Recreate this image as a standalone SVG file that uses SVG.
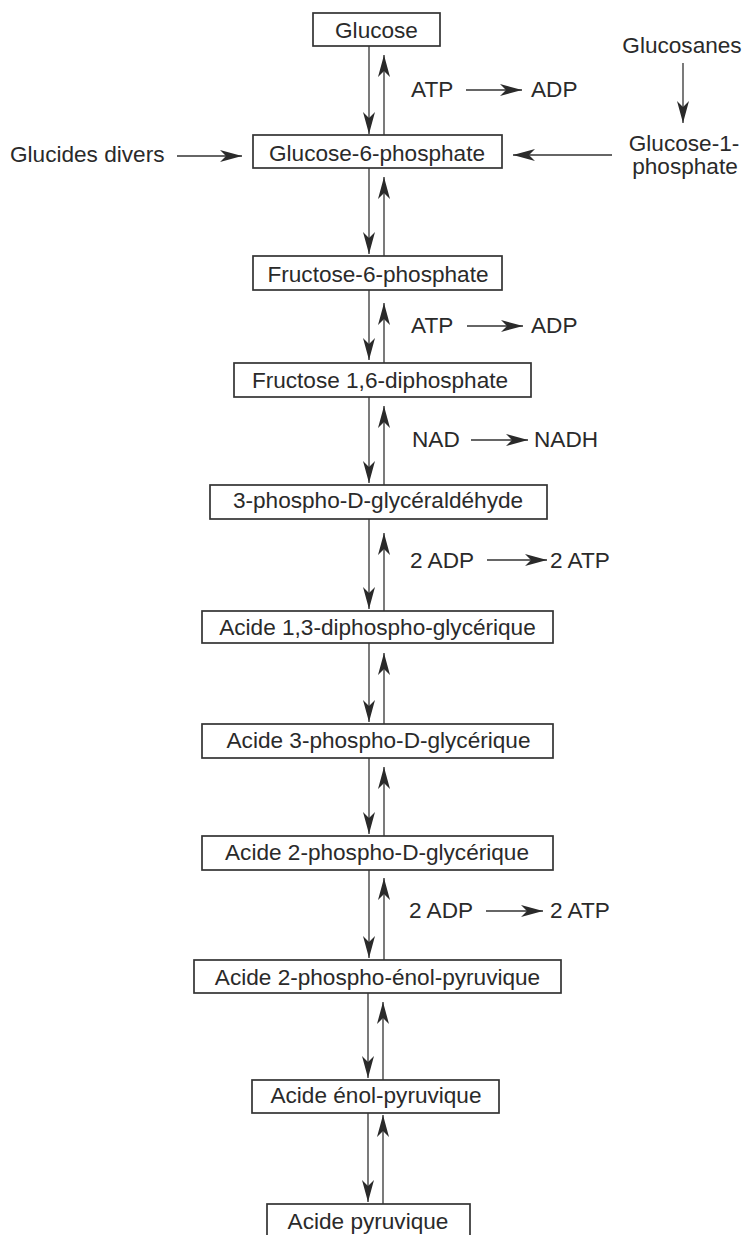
<svg xmlns="http://www.w3.org/2000/svg" width="745" height="1235" viewBox="0 0 745 1235">
<style>
  text { font-family: "Liberation Sans", Arial, sans-serif; font-size: 22.6px; fill: #2a2a2a; }
  .box { fill: #ffffff; stroke: #333333; stroke-width: 1.7; }
  .c { text-anchor: middle; }
  .ln { stroke: #333333; stroke-width: 1.3; fill: none; marker-end: url(#ah); }
</style>
<defs>
  <marker id="ah" markerUnits="userSpaceOnUse" markerWidth="24" markerHeight="13" refX="22" refY="6.5" orient="auto" viewBox="0 0 24 13">
    <path d="M0,0.5 L22,6.5 L0,12.5 L6,6.5 Z" fill="#2a2a2a"/>
  </marker>
</defs>
<rect width="745" height="1235" fill="#ffffff"/>

<g id="connectors">
  <line class="ln" x1="369" y1="46" x2="369" y2="134"/>
  <line class="ln" x1="369" y1="168" x2="369" y2="254"/>
  <line class="ln" x1="369" y1="290" x2="369" y2="360"/>
  <line class="ln" x1="369" y1="397" x2="369" y2="483"/>
  <line class="ln" x1="369" y1="519" x2="369" y2="609"/>
  <line class="ln" x1="369" y1="643" x2="369" y2="722"/>
  <line class="ln" x1="369" y1="758" x2="369" y2="834"/>
  <line class="ln" x1="369" y1="870" x2="369" y2="958"/>
  <line class="ln" x1="368" y1="993" x2="368" y2="1078"/>
  <line class="ln" x1="368" y1="1113" x2="368" y2="1202"/>
  <line class="ln" x1="384" y1="135" x2="384" y2="55"/>
  <line class="ln" x1="384" y1="256" x2="384" y2="177"/>
  <line class="ln" x1="384" y1="363" x2="384" y2="303"/>
  <line class="ln" x1="384" y1="485" x2="384" y2="406"/>
  <line class="ln" x1="384" y1="611" x2="384" y2="533"/>
  <line class="ln" x1="384" y1="724" x2="384" y2="653"/>
  <line class="ln" x1="384" y1="836" x2="384" y2="767"/>
  <line class="ln" x1="384" y1="960" x2="384" y2="878"/>
  <line class="ln" x1="383" y1="1080" x2="383" y2="1002"/>
  <line class="ln" x1="383" y1="1204" x2="383" y2="1115"/>
  <line class="ln" x1="466" y1="90" x2="522" y2="90"/>
  <line class="ln" x1="467" y1="326" x2="523" y2="326"/>
  <line class="ln" x1="471" y1="440" x2="528" y2="440"/>
  <line class="ln" x1="487" y1="560" x2="547" y2="560"/>
  <line class="ln" x1="486" y1="911" x2="543" y2="911"/>
  <line class="ln" x1="177" y1="156" x2="242" y2="156"/>
  <line class="ln" x1="612" y1="155" x2="513" y2="155"/>
  <line class="ln" x1="683" y1="63" x2="683" y2="123"/>
</g>

<g id="glucose"><rect class="box" x="313" y="13" width="127" height="33"/><text class="c" x="376.5" y="38">Glucose</text></g>
<g id="g6p"><rect class="box" x="253" y="135" width="249" height="33"/><text class="c" x="377" y="161">Glucose-6-phosphate</text></g>
<g id="f6p"><rect class="box" x="253" y="256" width="249" height="34"/><text class="c" x="378" y="282">Fructose-6-phosphate</text></g>
<g id="f16dp"><rect class="box" x="234" y="363" width="297" height="34"/><text class="c" x="380" y="388">Fructose 1,6-diphosphate</text></g>
<g id="g3p"><rect class="box" x="210" y="485" width="337" height="34"/><text class="c" x="378" y="508">3-phospho-D-glycéraldéhyde</text></g>
<g id="a13dpg"><rect class="box" x="202" y="611" width="351" height="32"/><text class="c" x="377.5" y="635">Acide 1,3-diphospho-glycérique</text></g>
<g id="a3pg"><rect class="box" x="202" y="724" width="351" height="34"/><text class="c" x="378.5" y="748">Acide 3-phospho-D-glycérique</text></g>
<g id="a2pg"><rect class="box" x="202" y="836" width="351" height="34"/><text class="c" x="377" y="860">Acide 2-phospho-D-glycérique</text></g>
<g id="pep"><rect class="box" x="194" y="960" width="367" height="33"/><text class="c" x="377.5" y="985">Acide 2-phospho-énol-pyruvique</text></g>
<g id="enolpyr"><rect class="box" x="252" y="1080" width="247" height="33"/><text class="c" x="376" y="1103">Acide énol-pyruvique</text></g>
<g id="pyr"><rect class="box" x="267" y="1204" width="203" height="40"/><text class="c" x="368" y="1229">Acide pyruvique</text></g>

<g id="glucides-divers"><text x="10" y="162">Glucides divers</text></g>
<g id="glucosanes"><text class="c" x="682" y="53">Glucosanes</text></g>
<g id="glucose-1-phosphate"><text class="c" x="684" y="151">Glucose-1-</text><text class="c" x="685" y="174">phosphate</text></g>

<g id="labels">
  <text x="411" y="97">ATP</text><text x="531" y="97">ADP</text>
  <text x="411" y="333">ATP</text><text x="531" y="333">ADP</text>
  <text x="412" y="447">NAD</text><text x="534" y="447">NADH</text>
  <text x="410" y="568">2 ADP</text><text x="550" y="568">2 ATP</text>
  <text x="409" y="918">2 ADP</text><text x="550" y="918">2 ATP</text>
</g>
</svg>
